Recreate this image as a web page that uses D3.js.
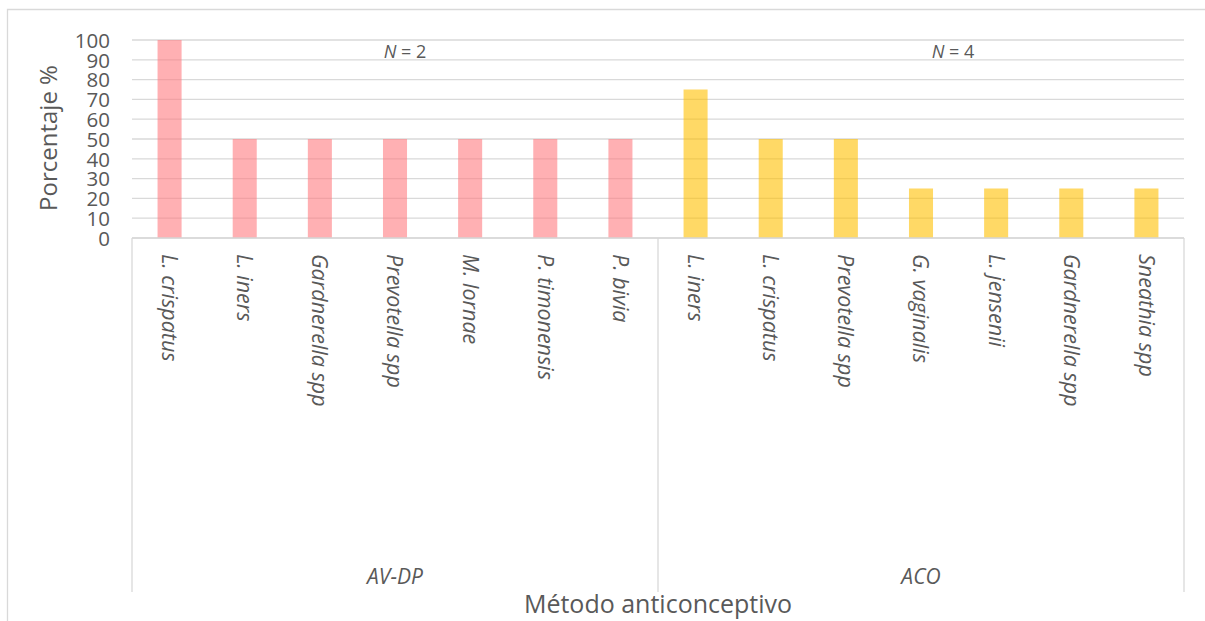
<!DOCTYPE html>
<html><head><meta charset="utf-8">
<script src="https://cdn.jsdelivr.net/npm/d3@7"></script>
<style>body{margin:0;background:#fff;} svg{display:block;font-family:"Open Sans",sans-serif;}</style>
</head><body>
<svg id="c" width="1205" height="621"></svg>
<script>
const groups = ["AV-DP", "ACO"];
const groupN = ["2", "4"];
const avdpSpecies = ["L. crispatus","L. iners","Gardnerella spp","Prevotella spp","M. lornae","P. timonensis","P. bivia"];
const avdpValues = [100,50,50,50,50,50,50];
const acoSpecies = ["L. iners","L. crispatus","Prevotella spp","G. vaginalis","L. jensenii","Gardnerella spp","Sneathia spp"];
const acoValues = [75,50,50,25,25,25,25];
const yTicks = [0,10,20,30,40,50,60,70,80,90,100];
const groupColors = ["#FF7C80", "#FFC000"];

const rows = [];
avdpSpecies.forEach((s,i)=>rows.push({key:"g0-"+i, label:s, value:avdpValues[i], g:0}));
acoSpecies.forEach((s,i)=>rows.push({key:"g1-"+i, label:s, value:acoValues[i], g:1}));

const svg = d3.select("#c");
const L = 132, R = 1184, T = 40, B = 238;
const x = d3.scaleBand().domain(rows.map(r=>r.key)).range([L,R]).paddingInner(0.68).paddingOuter(0.34);
const y = d3.scaleLinear().domain([0,100]).range([B,T]);
const grey = "#d9d9d9", txt = "#595959";

// outer border
svg.append("path").attr("d","M7.5,621 V9.5 H1205").attr("fill","none").attr("stroke",grey).attr("stroke-width",1.3);

// gridlines
svg.append("g").selectAll("line").data(yTicks).join("line")
  .attr("x1",L).attr("x2",R).attr("y1",d=>y(d)).attr("y2",d=>y(d))
  .attr("stroke",grey).attr("stroke-width",1.3);

// bars
svg.append("g").selectAll("rect").data(rows).join("rect")
  .attr("x",d=>x(d.key)).attr("width",x.bandwidth())
  .attr("y",d=>y(d.value)).attr("height",d=>y(0)-y(d.value))
  .attr("fill",d=>groupColors[d.g]).attr("fill-opacity",0.6);

// y axis labels
const yAxis = d3.axisLeft(y).tickValues(yTicks).tickSize(0).tickPadding(22);
const ya = svg.append("g").attr("transform",`translate(${L},0)`).call(yAxis);
ya.select(".domain").remove();
ya.selectAll("text").attr("fill",txt).attr("dy","0.36em").style("font-size","20.5px").style("font-family","Open Sans");

// y title
svg.append("text").attr("transform",`translate(57,${(T+B)/2 - 1}) rotate(-90)`)
  .attr("text-anchor","middle").attr("fill",txt).style("font-size","24px").text("Porcentaje %");

// category axis frame: baseline and group dividers
const bounds = [L, (x("g0-6")+x("g1-0")+x.bandwidth())/2, R];
svg.append("line").attr("x1",L).attr("x2",R).attr("y1",B).attr("y2",B).attr("stroke",grey).attr("stroke-width",1.3);
svg.append("g").selectAll("line").data(bounds).join("line")
  .attr("x1",d=>d).attr("x2",d=>d).attr("y1",B).attr("y2",592)
  .attr("stroke",grey).attr("stroke-width",1.3);

// category labels
svg.append("g").selectAll("text").data(rows).join("text")
  .attr("transform",d=>`translate(${x(d.key)+x.bandwidth()/2},254) rotate(90)`)
  .attr("dy","0.35em").attr("fill",txt).style("font-size","21.5px").style("font-style","italic")
  .text(d=>d.label);

// group labels
svg.append("g").selectAll("text").data(groups).join("text")
  .attr("x",(d,i)=>(bounds[i]+bounds[i+1])/2).attr("y",584)
  .attr("text-anchor","middle").attr("fill",txt).style("font-size","21px").style("font-style","italic")
  .text(d=>d);

// N annotations
const nOffsets = [10, 32];
groups.forEach((g,i)=>{
  const t = svg.append("text").attr("x",(bounds[i]+bounds[i+1])/2 + nOffsets[i]).attr("y",58)
    .attr("text-anchor","middle").attr("fill",txt).style("font-size","18px");
  t.append("tspan").style("font-style","italic").text("N");
  t.append("tspan").text(" = "+groupN[i]);
});

// x title
svg.append("text").attr("x",(L+R)/2).attr("y",613).attr("text-anchor","middle")
  .attr("fill",txt).style("font-size","25px").text("Método anticonceptivo");
</script>
</body></html>
